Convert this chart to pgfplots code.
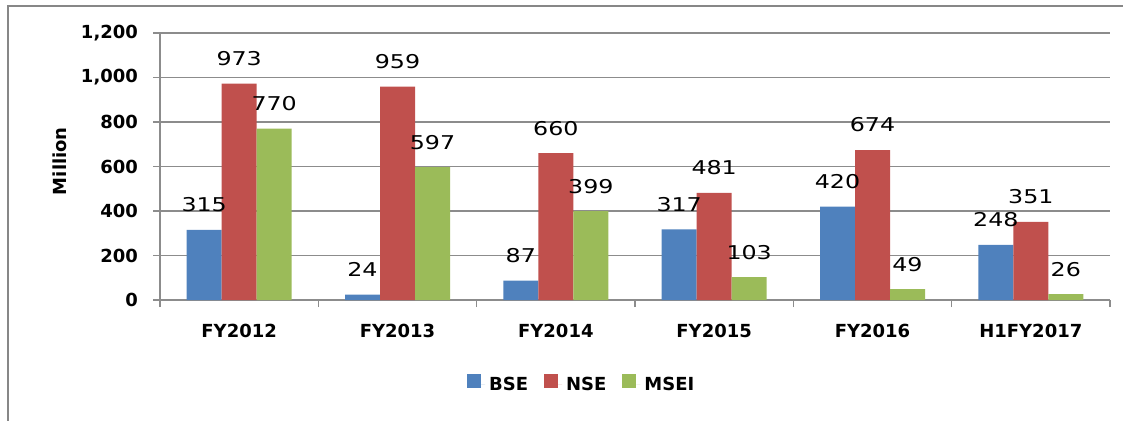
\documentclass[border=0pt]{standalone}
\usepackage{fontspec}
\setmainfont{DejaVu Sans}
\newfontfamily\lblfont[FakeStretch=1.25]{DejaVu Sans}
\usepackage{pgfplots}
\pgfplotsset{compat=1.18}
\definecolor{BSE}{HTML}{4F81BD}
\definecolor{NSE}{HTML}{C0504D}
\definecolor{MSEI}{HTML}{9BBB59}
\definecolor{Frame}{HTML}{878787}
\definecolor{Grid}{HTML}{8C8C8C}
\newcommand\boldlbl{\fontsize{9}{11}\selectfont\bfseries}

\begin{document}
\begin{tikzpicture}
\useasboundingbox (0,0) rectangle (561.5pt,210pt);
\draw[Frame, line width=0.6pt] (4pt,-5pt) -- (4pt,207pt) -- (570pt,207pt);
\begin{axis}[
  at={(80pt,60pt)}, anchor=south west,
  scale only axis, width=475pt, height=133.5pt,
  ybar=0pt, bar width=17.5pt,
  xmin=-0.5, xmax=5.5, ymin=0, ymax=1200,
  xtick={0,...,5},
  xticklabels={FY2012,FY2013,FY2014,FY2015,FY2016,H1FY2017},
  ytick={0,200,...,1200},
  axis x line*=bottom, axis y line*=left,
  axis line style={Grid, line width=0.6pt},
  ymajorgrids, grid style={Grid, line width=0.6pt},
  tick align=outside, major tick length=3.5pt,
  tick style={Grid, line width=0.6pt},
  xtick style={draw=none},
  extra x ticks={-0.5,0.5,...,5.5}, extra x tick labels={},
  extra x tick style={xtick style={draw=Grid, line width=0.6pt}},
  ticklabel style={font=\boldlbl},
  /pgf/number format/1000 sep={,},
  /pgf/number format/assume math mode=true,
  yticklabel style={xshift=-4pt},
  xticklabel style={yshift=-5pt},
  ylabel={Million},
  ylabel style={at={(axis description cs:-0.105,0.52)}, anchor=center, font=\boldlbl},
  nodes near coords,
  every node near coord/.append style={font=\fontsize{9.5}{11}\lblfont, anchor=center, yshift=12.5pt},
  legend columns=3,
  legend style={at={(axis description cs:0.445,-0.318)}, anchor=center, draw=none,
    font=\boldlbl, /tikz/every even column/.append style={column sep=6pt}},
  legend image code/.code={\path[#1] (0pt,-1.5pt) rectangle (7pt,5.5pt); \path (7pt,0pt) -- (9pt,0pt);},
]
\addplot[fill=BSE, draw=none] coordinates {(0,315) (1,24) (2,87) (3,317) (4,420) (5,248)};
\addlegendentry{BSE}
\addplot[fill=NSE, draw=none] coordinates {(0,973) (1,959) (2,660) (3,481) (4,674) (5,351)};
\addlegendentry{NSE}
\addplot[fill=MSEI, draw=none] coordinates {(0,770) (1,597) (2,399) (3,103) (4,49) (5,26)};
\addlegendentry{MSEI}
\end{axis}
\end{tikzpicture}
\end{document}
